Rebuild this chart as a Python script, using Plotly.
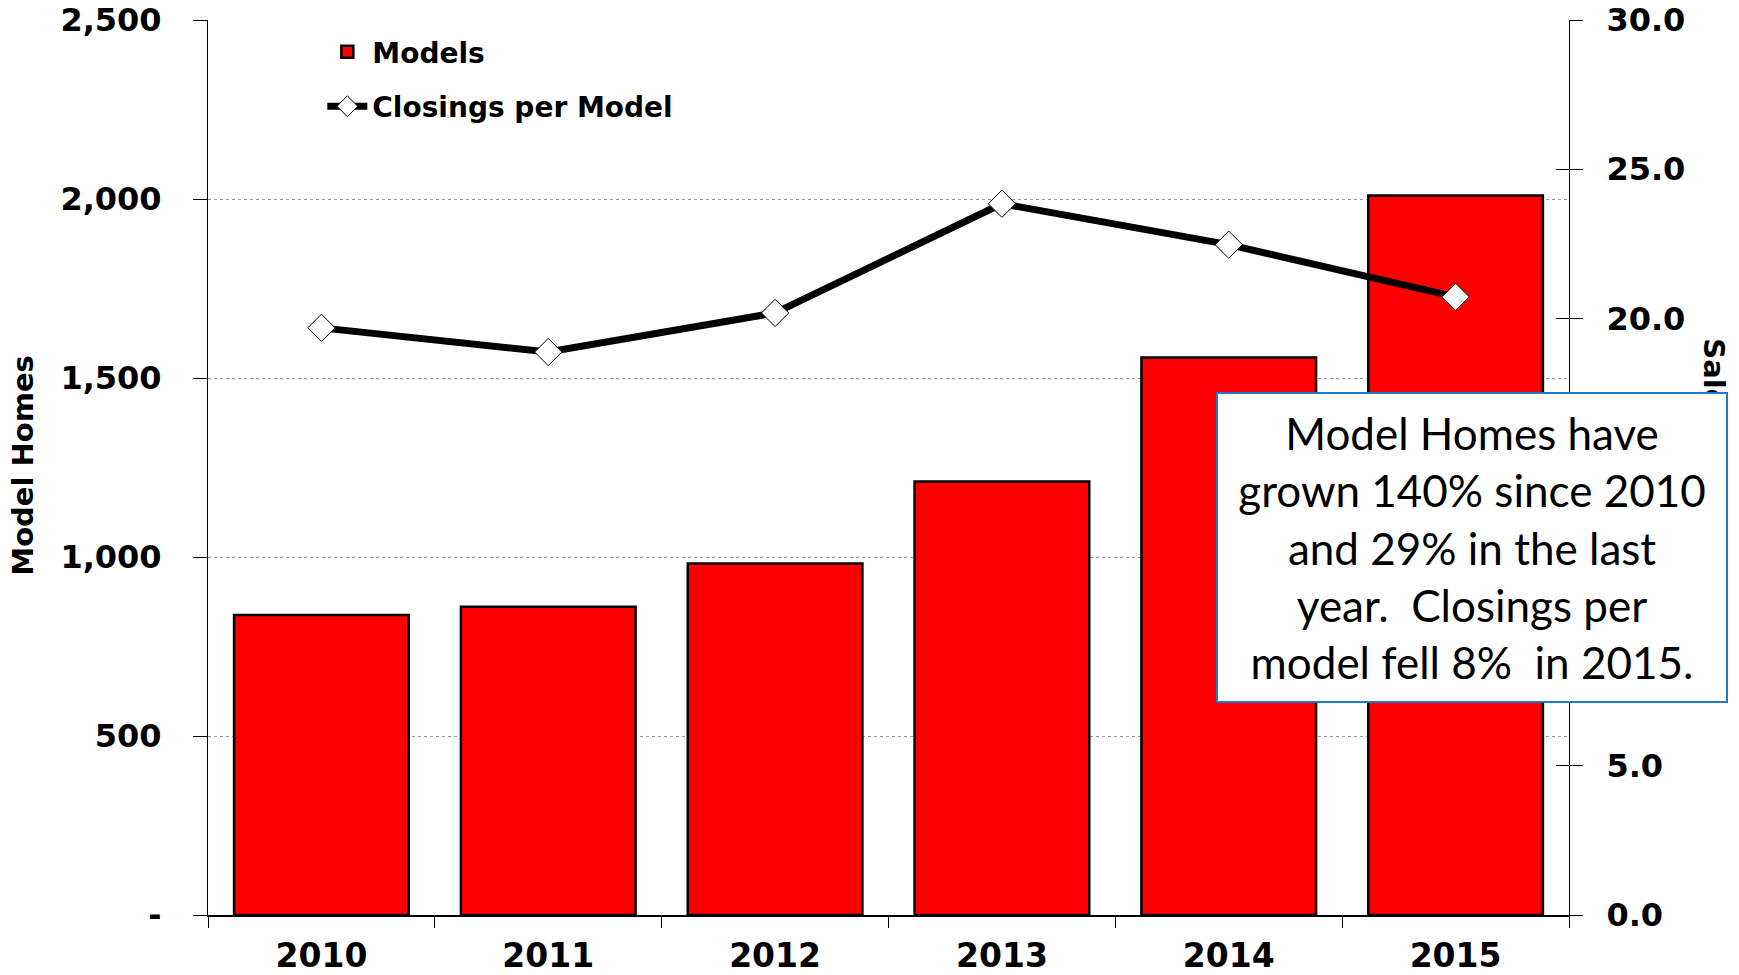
import plotly.graph_objects as go

years = ["2010", "2011", "2012", "2013", "2014", "2015"]
models = [838, 861, 982, 1211, 1557, 2010]
closings_per_model = [19.68, 18.87, 20.18, 23.84, 22.47, 20.72]

left_tickvals = [0, 500, 1000, 1500, 2000, 2500]
left_ticktext = ["-", "500", "1,000", "1,500", "2,000", "2,500"]
right_tickvals = [0, 5, 10, 15, 20, 25, 30]

note_text = ("Model Homes have<br>grown 140% since 2010<br>and 29% in the last<br>"
             "year.  Closings per<br>model fell 8%  in 2015.")

BOLD = dict(family="DejaVu Sans", color="black", weight="bold")

fig = go.Figure()
fig.add_trace(go.Bar(
    x=years, y=models, name="Models",
    marker=dict(color="#FF0000", line=dict(color="black", width=2.5)),
    legendgroup="a",
))
fig.add_trace(go.Scatter(
    x=years, y=closings_per_model, name="Closings per Model", yaxis="y2",
    mode="lines+markers",
    line=dict(color="black", width=7),
    marker=dict(symbol="diamond", size=21, color="white", line=dict(color="black", width=1)),
    legendgroup="b",
))
# invisible helper trace for the inside half of the right-axis cross ticks
fig.add_trace(go.Scatter(x=years, y=closings_per_model, yaxis="y3", mode="none",
                         showlegend=False, hoverinfo="skip"))

fig.update_layout(
    width=1739, height=975,
    margin=dict(l=208, r=170, t=20, b=60, autoexpand=False),
    paper_bgcolor="white", plot_bgcolor="white",
    bargap=0.23,
    showlegend=True,
    legend=dict(x=0.084, y=0.992, xanchor="left", yanchor="top",
                font=dict(size=28, **BOLD), bgcolor="rgba(0,0,0,0)",
                traceorder="grouped", tracegroupgap=15, itemwidth=40),
    xaxis=dict(
        type="category", showgrid=False, showline=True, linecolor="black", linewidth=1.5,
        ticks="outside", tickson="boundaries", ticklen=11, tickcolor="black", tickwidth=1,
        tickfont=dict(size=33, **BOLD), ticklabelstandoff=11, automargin=False,
    ),
    yaxis=dict(
        range=[0, 2500], tickvals=left_tickvals, ticktext=left_ticktext,
        showline=True, linecolor="black", linewidth=1,
        ticks="outside", ticklen=14, tickcolor="black", tickwidth=1,
        tickfont=dict(size=32, **BOLD), ticklabelstandoff=25, automargin=False,
        showgrid=True, gridcolor="#9a9a9a", gridwidth=1, griddash="dot",
        zeroline=False,
    ),
    yaxis2=dict(
        range=[0, 30], tickvals=right_tickvals, tickformat=".1f",
        overlaying="y", side="right", anchor="x",
        showline=True, linecolor="black", linewidth=1,
        ticks="outside", ticklen=13, tickcolor="black", tickwidth=1,
        tickfont=dict(size=32, **BOLD), ticklabelstandoff=17, automargin=False,
        showgrid=False, zeroline=False,
    ),
    yaxis3=dict(
        range=[0, 30], tickvals=right_tickvals,
        overlaying="y", side="right", anchor="x",
        showline=False, ticks="inside", ticklen=13, tickcolor="black", tickwidth=1,
        showticklabels=False, showgrid=False, zeroline=False, automargin=False,
    ),
    annotations=[
        dict(text="Model Homes", textangle=-90, xref="paper", yref="paper",
             x=-0.136, y=0.503, xanchor="center", yanchor="middle", showarrow=False,
             font=dict(size=29, **BOLD)),
        dict(text="Sales per Model", textangle=90, xref="paper", yref="paper",
             x=1.1065, y=0.498, xanchor="center", yanchor="middle", showarrow=False,
             font=dict(size=29, **BOLD)),
        dict(text=note_text, xref="paper", yref="paper",
             x=0.9287, y=0.4106, xanchor="center", yanchor="middle", showarrow=False,
             align="center", width=504, height=303,
             bgcolor="white", bordercolor="#1F7BC9", borderwidth=2, borderpad=2,
             font=dict(family="Lato", size=44, color="black")),
    ],
)

fig.write_html("out.html")
